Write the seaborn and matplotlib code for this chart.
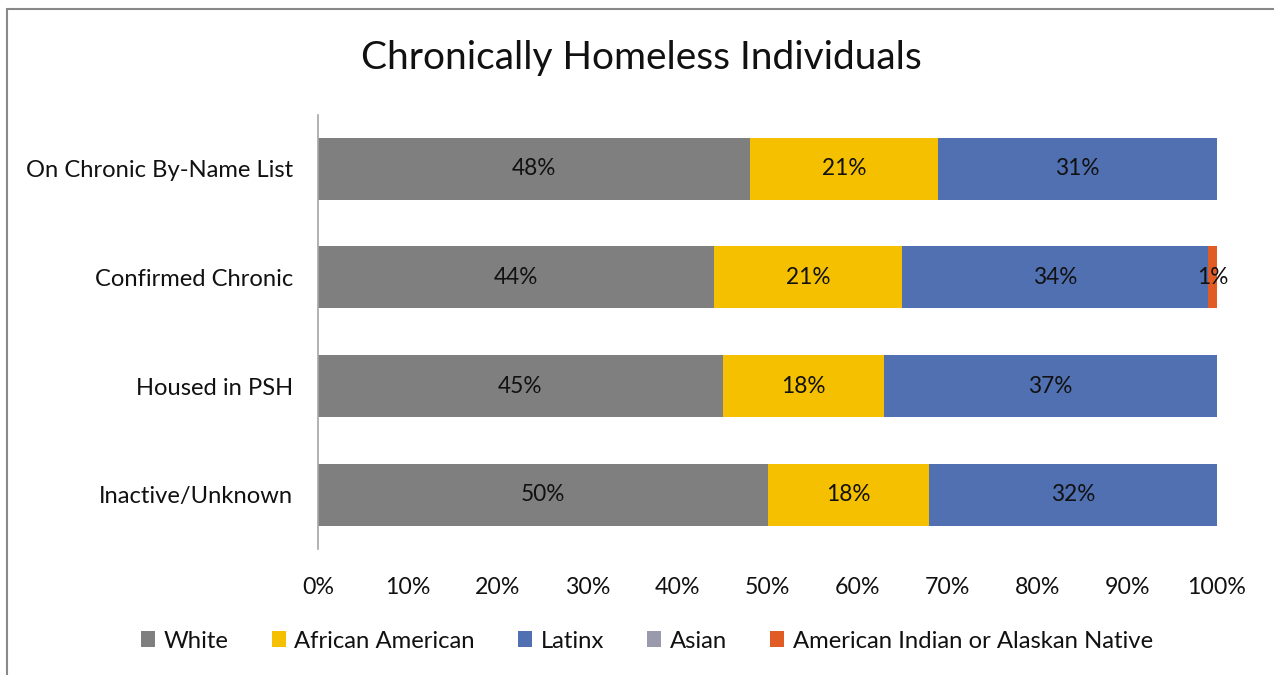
import matplotlib
matplotlib.use("Agg")
import matplotlib.pyplot as plt
import seaborn as sns
import pandas as pd
import numpy as np
from matplotlib.patches import Patch
from matplotlib.lines import Line2D

categories = ["On Chronic By-Name List", "Confirmed Chronic", "Housed in PSH", "Inactive/Unknown"]
series_names = ["White", "African American", "Latinx", "Asian", "American Indian or Alaskan Native"]
white = [48, 44, 45, 50]
african_american = [21, 21, 18, 18]
latinx = [31, 34, 37, 32]
asian = [0, 0, 0, 0]
am_indian = [0, 1, 0, 0]
x_ticks = [0, 10, 20, 30, 40, 50, 60, 70, 80, 90, 100]
title = "Chronically Homeless Individuals"

colors = ["#7f7f7f", "#f5c000", "#5070b2", "#9a9aac", "#e15b24"]

sns.set_theme(style="white")
plt.rcParams['font.family'] = ['Lato', 'DejaVu Sans']

series = [white, african_american, latinx, asian, am_indian]
df = pd.DataFrame({"category": categories})
for name, vals in zip(series_names, series):
    df[name] = vals
cum = df[series_names].cumsum(axis=1)

fig = plt.figure(figsize=(12.74, 6.75), dpi=100)
ax = fig.add_axes([318/1274, 1-549/675, (1217-318)/1274, (549-114.5)/675])

for i in range(len(series_names)-1, -1, -1):
    name = series_names[i]
    sns.barplot(x=cum[name], y=df["category"], orient="h", color=colors[i],
                width=0.57, ax=ax, linewidth=0, saturation=1)

# labels
for r, cat in enumerate(categories):
    start = 0
    for i, name in enumerate(series_names):
        v = df.loc[r, name]
        if v > 0:
            ax.text(start + v/2, r, f"{v}%", ha="center", va="center",
                    fontsize=16.3, color="#111111")
        start += v

ax.set_xlim(0, 100)
ax.set_ylim(len(categories)-0.5, -0.5)
ax.set_xticks(x_ticks)
ax.set_xticklabels([f"{t}%" for t in x_ticks])
ax.set_xlabel("")
ax.set_ylabel("")
for s in ["top", "right", "bottom"]:
    ax.spines[s].set_visible(False)
ax.spines["left"].set_color("#a6a6a6")
ax.spines["left"].set_linewidth(1.2)
ax.tick_params(axis="y", length=0, pad=18, labelsize=17.1, labelcolor="#111111")
ax.tick_params(axis="x", length=0, pad=20, labelsize=16.7, labelcolor="#111111")

fig.text(641/1274, 1-58/675, title, ha="center", va="center", fontsize=28, color="#111111")

handles = [Patch(facecolor=c, edgecolor="none") for c in colors]
fig.legend(handles, series_names, loc="center", bbox_to_anchor=(647/1274, 1-641/675),
           ncol=5, frameon=False, fontsize=17.2, handlelength=0.6, handleheight=0.6,
           handletextpad=0.35, columnspacing=1.8, labelcolor="#111111")

# outer border (left and top)
fig.add_artist(Line2D([7/1274, 7/1274], [0, 1-9/675], transform=fig.transFigure, color="#888888", lw=1.5))
fig.add_artist(Line2D([7/1274, 1], [1-9/675, 1-9/675], transform=fig.transFigure, color="#888888", lw=1.5))

fig.savefig("out.png", dpi=100)
